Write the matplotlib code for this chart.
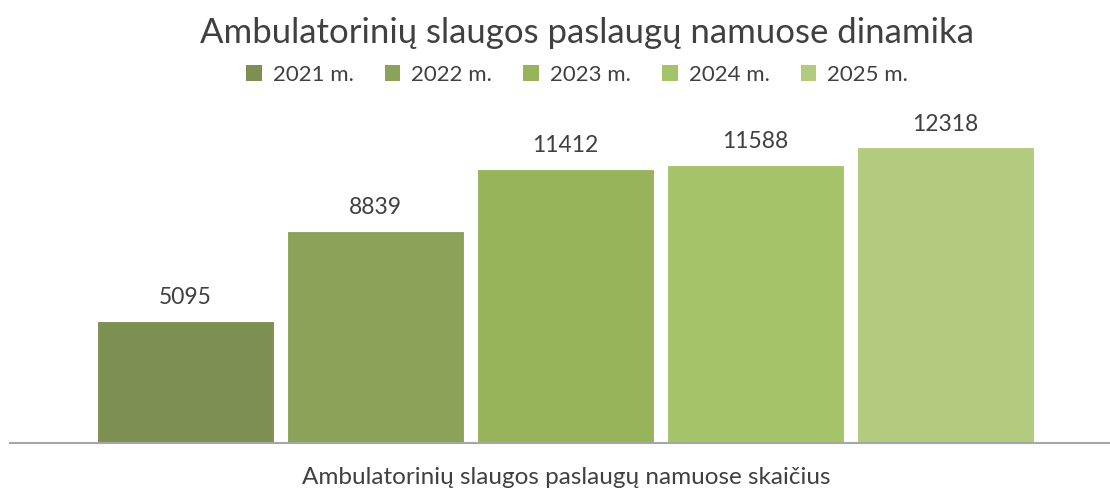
import matplotlib.pyplot as plt
from matplotlib.patches import Patch

plt.rcParams["font.family"] = ["Lato", "DejaVu Sans"]

years = ["2021 m.", "2022 m.", "2023 m.", "2024 m.", "2025 m."]
values = [5095, 8839, 11412, 11588, 12318]
colors = ["#7E8F52", "#8BA358", "#98B45B", "#A5C369", "#B2CB7E"]

fig = plt.figure(figsize=(11.1, 4.88), dpi=100)
ax = fig.add_axes([10 / 1110, 1 - 443 / 488, 1100 / 1110, 334 / 488])

x = list(range(len(values)))
bars = ax.bar(x, values, width=0.93, color=colors, edgecolor="white", linewidth=0.8)
for b, v in zip(bars, values):
    ax.annotate(str(v), (b.get_x() + b.get_width() / 2, v), xytext=(0, 9),
                textcoords="offset points", ha="center", va="bottom",
                fontsize=16.5, color="#404040")

ax.set_xlim(-0.924, 4.866)
ax.set_ylim(0, 13900)
for side in ["top", "right", "left"]:
    ax.spines[side].set_visible(False)
ax.spines["bottom"].set_color("#A6A6A6")
ax.spines["bottom"].set_linewidth(1.5)
ax.set_yticks([])
ax.set_xticks([])

fig.text(0.529, 1 - 33 / 488, "Ambulatorinių slaugos paslaugų namuose dinamika",
         ha="center", va="center", fontsize=25, color="#404040")
fig.text(0.51, 1 - 478 / 488, "Ambulatorinių slaugos paslaugų namuose skaičius",
         ha="center", va="center", fontsize=17.5, color="#404040")

handles = [Patch(facecolor=c, label=y) for c, y in zip(colors, years)]
fig.legend(handles=handles, loc="center", bbox_to_anchor=(0.52, 1 - 75 / 488),
           ncol=5, frameon=False, fontsize=16, handlelength=0.7, handleheight=0.7,
           handletextpad=0.5, columnspacing=1.4, labelcolor="#404040")

fig.savefig("out.png", dpi=100)
